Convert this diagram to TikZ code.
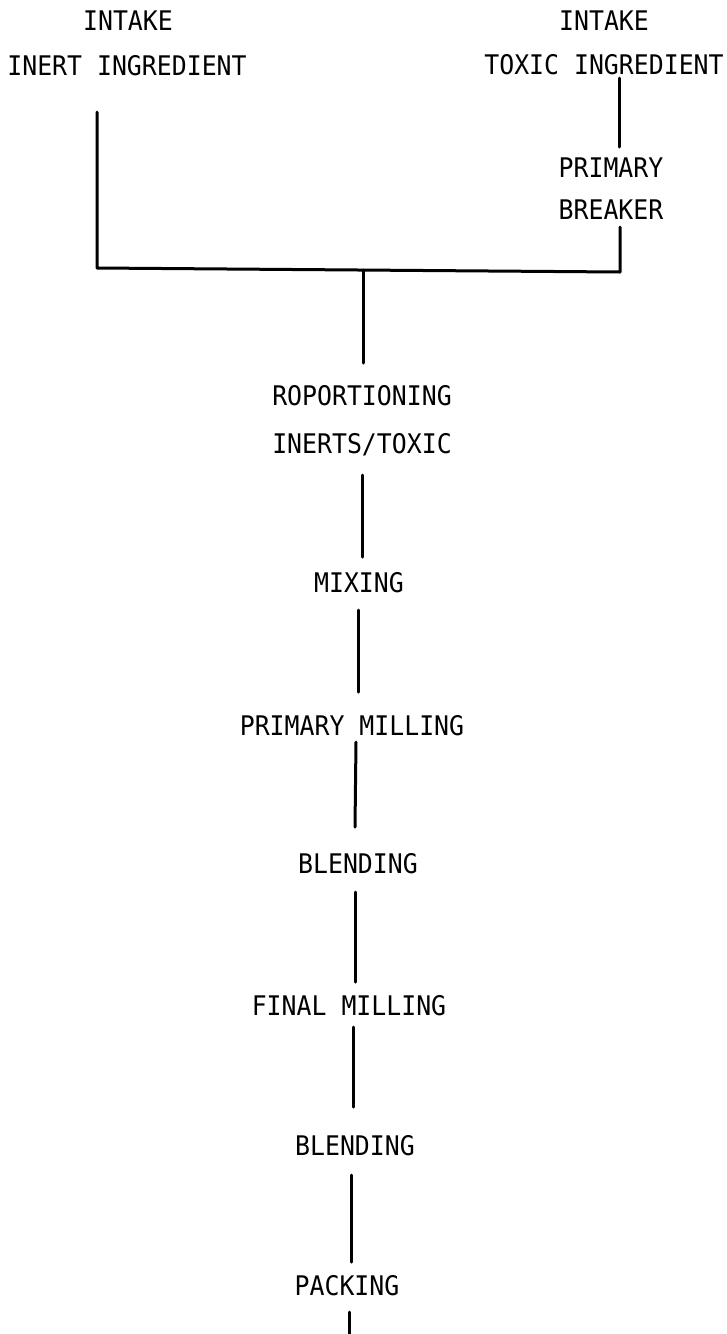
\documentclass[tikz,border=0pt]{standalone}
\usepackage{fontspec}
\setmonofont[FakeStretch=0.92]{DejaVu Sans Mono}
\usetikzlibrary{calc}
\begin{document}
\begin{tikzpicture}[x=1pt,y=-1pt,
  lbl/.style={font=\ttfamily\fontsize{27}{32}\selectfont, inner sep=0pt, anchor=base},
  flow/.style={line width=3pt, line cap=round, line join=round}]
\useasboundingbox[fill=white] (0,0) rectangle (726,1334);
% labels
\node[lbl] (intakeL) at (128,30) {INTAKE};
\node[lbl] (inert)   at (127,75) {INERT INGREDIENT};
\node[lbl] (intakeR) at (604,30) {INTAKE};
\node[lbl] (toxic)   at (604,74) {TOXIC INGREDIENT};
\node[lbl] (prim)    at (611,177) {PRIMARY};
\node[lbl] (breaker) at (611,219) {BREAKER};
\node[lbl] (ropo)    at (362,405) {ROPORTIONING};
\node[lbl] (inerts)  at (362,453) {INERTS/TOXIC};
\node[lbl] (mix)     at (359,592) {MIXING};
\node[lbl] (pm)      at (352,735) {PRIMARY MILLING};
\node[lbl] (blendA)  at (358,873) {BLENDING};
\node[lbl] (fm)      at (349,1015) {FINAL MILLING};
\node[lbl] (blendB)  at (355,1155) {BLENDING};
\node[lbl] (pack)    at (347,1295) {PACKING};
% junction points
\coordinate (jL) at (97,268);
\coordinate (jM) at (363,270);
\coordinate (jR) at (620,272);
\coordinate (out) at (349,1340);
% connectors
\draw[flow] ($(inert.base)+(-30,37)$) -- (jL) -- (jR) -- ($(breaker.base)+(9,8)$);
\draw[flow] ($(toxic.base)+(15,4)$) -- ($(prim.base)+(8,-30)$);
\draw[flow] (jM) -- ($(ropo.base)+(1,-42)$);
\draw[flow] ($(inerts.base)+(0,22)$) -- ($(mix.base)+(3,-35)$);
\draw[flow] ($(mix.base)+(-1,18)$) -- ($(pm.base)+(6,-43)$);
\draw[flow] ($(pm.base)+(4,7)$) -- ($(blendA.base)+(-3,-46)$);
\draw[flow] ($(blendA.base)+(-3,19)$) -- ($(fm.base)+(6,-33)$);
\draw[flow] ($(fm.base)+(4,12)$) -- ($(blendB.base)+(-2,-48)$);
\draw[flow] ($(blendB.base)+(-4,20)$) -- ($(pack.base)+(4,-33)$);
\draw[flow] ($(pack.base)+(2,17)$) -- (out);
\end{tikzpicture}
\end{document}
